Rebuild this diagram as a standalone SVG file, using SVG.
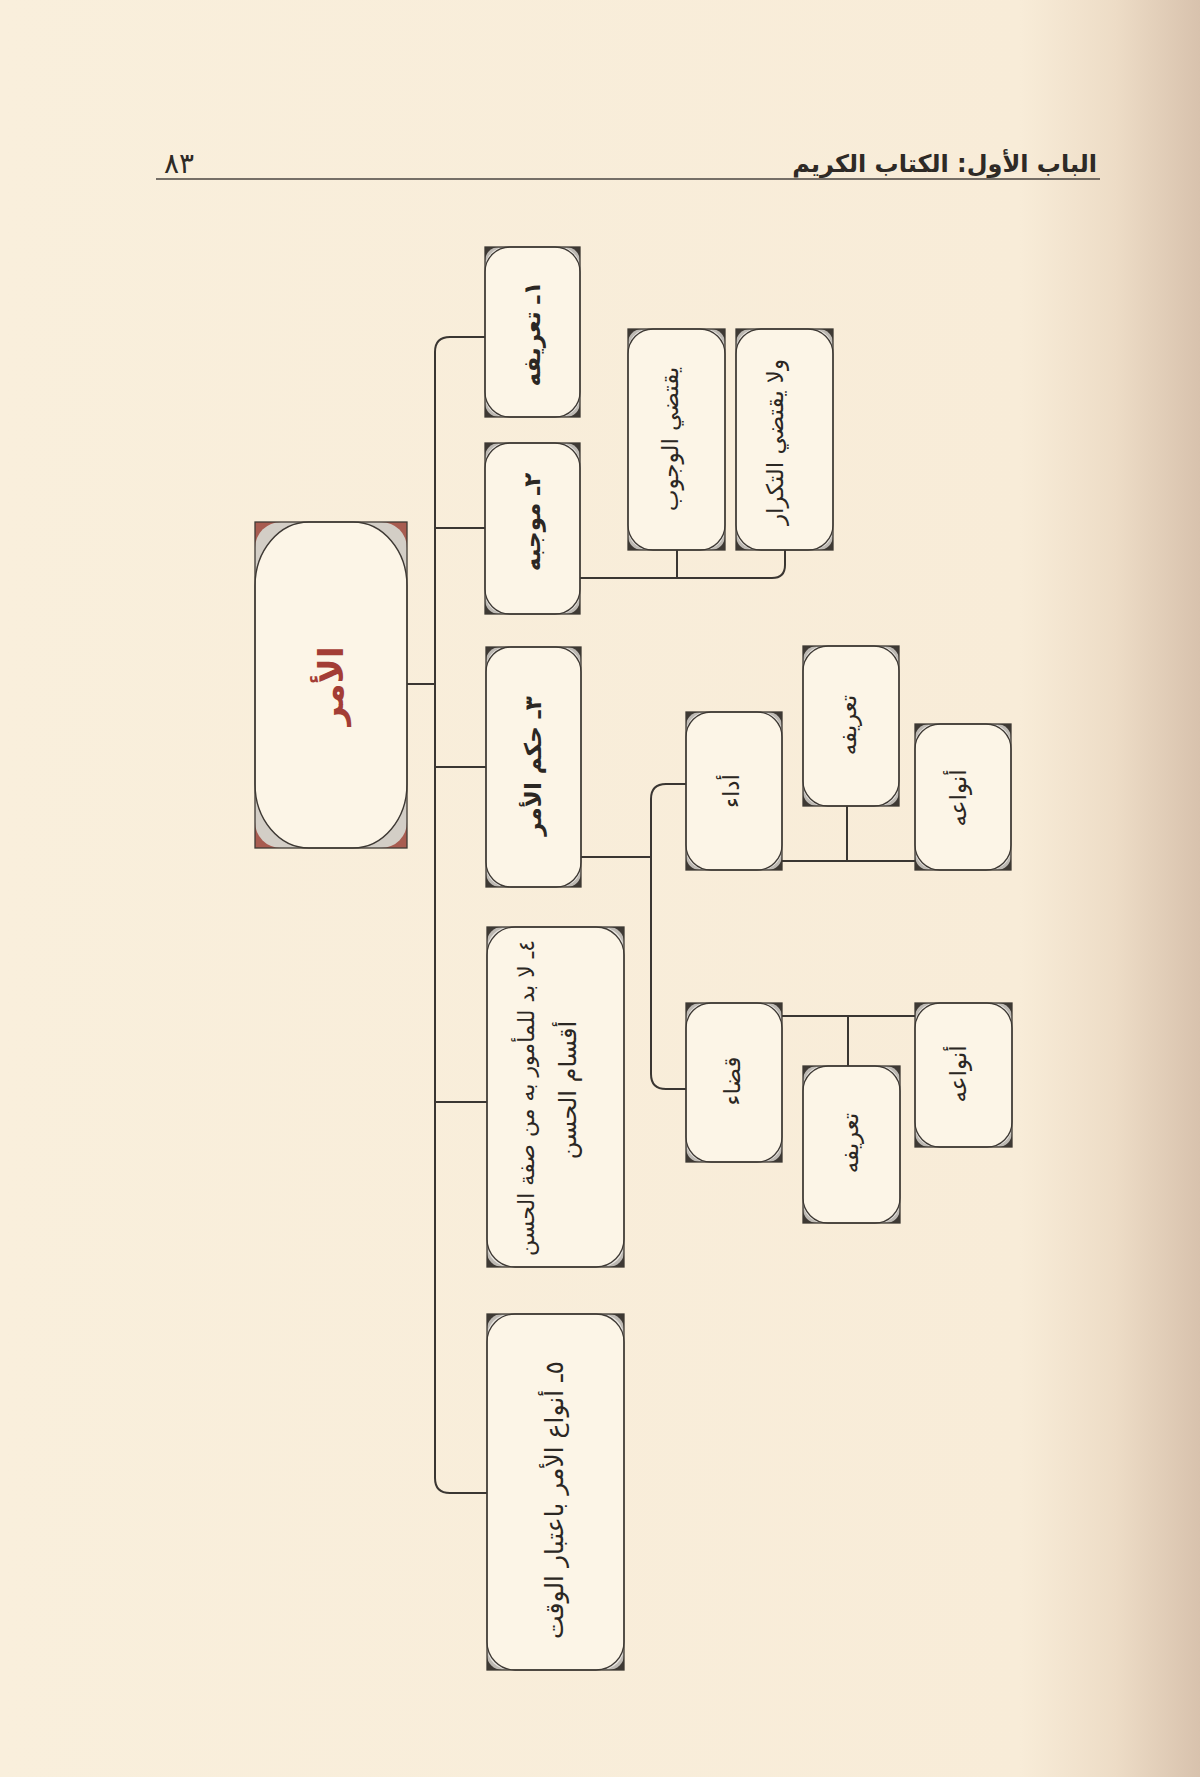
<svg xmlns="http://www.w3.org/2000/svg" width="1200" height="1777" viewBox="0 0 1200 1777">
<defs>
<linearGradient id="page" x1="0" y1="0" x2="1" y2="0">
<stop offset="0" stop-color="#f9efdc"/>
<stop offset="0.85" stop-color="#f8ecd8"/>
<stop offset="0.93" stop-color="#eddcc6"/>
<stop offset="1" stop-color="#d8c2ad"/>
</linearGradient>
<style>
.c{fill:#3e3934}
.g{fill:#bdb9b3}
.w{fill:#e9e6e1}
.i{fill:#fcf5e7;stroke:#3e3934;stroke-width:1.3}
.o{fill:none;stroke:#3e3934;stroke-width:1.3}
.mc{fill:#a85c50}
.mg{fill:#d3cec6}
.mi{fill:#fcf5e7;stroke:#3e3934;stroke-width:1.4}
.ln{fill:none;stroke:#3a3632;stroke-width:2}
.t{font-family:"DejaVu Sans",sans-serif;fill:#2b2723;font-size:23px;text-anchor:middle;dominant-baseline:central}
.b{font-weight:bold}
</style>
</defs>
<rect x="0" y="0" width="1200" height="1777" fill="url(#page)"/>

<g id="header">
<text x="1097" y="172" font-family="DejaVu Sans, sans-serif" font-size="24" font-weight="bold" fill="#2e2a26" text-anchor="end">الباب الأول: الكتاب الكريم</text>
<text x="164" y="173" font-family="DejaVu Sans, sans-serif" font-size="28" fill="#2e2a26">٨٣</text>
<line x1="156" y1="179" x2="1100" y2="179" stroke="#4a4540" stroke-width="1.5"/>
</g>

<g id="connectors">
<path class="ln" d="M407,684 H435"/>
<path class="ln" d="M485,337 H450 Q435,337 435,352 V1478 Q435,1493 450,1493 H487"/>
<path class="ln" d="M435,528 H485"/>
<path class="ln" d="M435,767 H486"/>
<path class="ln" d="M435,1102 H487"/>
<path class="ln" d="M580,578 H772 Q785,578 785,565 V550"/>
<path class="ln" d="M677,550 V578"/>
<path class="ln" d="M581,857 H651"/>
<path class="ln" d="M686,784 H666 Q651,784 651,799 V1074 Q651,1089 666,1089 H686"/>
<path class="ln" d="M782,861 H915"/>
<path class="ln" d="M847,806 V861"/>
<path class="ln" d="M782,1016 H915"/>
<path class="ln" d="M848,1016 V1066"/>
</g>

<g id="n-amr">
<rect class="mc" x="255" y="522" width="152" height="326"/>
<rect class="mg" x="255" y="522" width="152" height="326" rx="26"/>
<rect class="mi" x="255" y="522" width="152" height="326" rx="54" ry="64"/>
<rect class="o" x="255" y="522" width="152" height="326"/>
<text class="t b" transform="translate(331,686) rotate(-90)" style="fill:#a33d35;font-size:34px">الأمر</text>
</g>

<g id="n1">
<rect class="c" x="485" y="247" width="95" height="170"/>
<rect class="g" x="485" y="247" width="95" height="170" rx="14"/>
<rect class="w" x="485" y="247" width="95" height="170" rx="21"/>
<rect class="i" x="485" y="247" width="95" height="170" rx="25"/>
<rect class="o" x="485" y="247" width="95" height="170"/>
<text class="t b" transform="translate(532,334) rotate(-90)">١ـ تعريفه</text>
</g>

<g id="n2">
<rect class="c" x="485" y="443" width="95" height="171"/>
<rect class="g" x="485" y="443" width="95" height="171" rx="14"/>
<rect class="w" x="485" y="443" width="95" height="171" rx="21"/>
<rect class="i" x="485" y="443" width="95" height="171" rx="25"/>
<rect class="o" x="485" y="443" width="95" height="171"/>
<text class="t b" transform="translate(532,522) rotate(-90)">٢ـ موجبه</text>
</g>

<g id="n2a">
<rect class="c" x="628" y="329" width="97" height="221"/>
<rect class="g" x="628" y="329" width="97" height="221" rx="14"/>
<rect class="w" x="628" y="329" width="97" height="221" rx="21"/>
<rect class="i" x="628" y="329" width="97" height="221" rx="25"/>
<rect class="o" x="628" y="329" width="97" height="221"/>
<text class="t" transform="translate(670,439) rotate(-90)">يقتضي الوجوب</text>
</g>

<g id="n2b">
<rect class="c" x="736" y="329" width="97" height="221"/>
<rect class="g" x="736" y="329" width="97" height="221" rx="14"/>
<rect class="w" x="736" y="329" width="97" height="221" rx="21"/>
<rect class="i" x="736" y="329" width="97" height="221" rx="25"/>
<rect class="o" x="736" y="329" width="97" height="221"/>
<text class="t" transform="translate(775,442) rotate(-90)">ولا يقتضي التكرار</text>
</g>

<g id="n3">
<rect class="c" x="486" y="647" width="95" height="240"/>
<rect class="g" x="486" y="647" width="95" height="240" rx="14"/>
<rect class="w" x="486" y="647" width="95" height="240" rx="21"/>
<rect class="i" x="486" y="647" width="95" height="240" rx="25"/>
<rect class="o" x="486" y="647" width="95" height="240"/>
<text class="t b" transform="translate(533,766) rotate(-90)">٣ـ حكم الأمر</text>
</g>

<g id="n3a">
<rect class="c" x="686" y="712" width="96" height="158"/>
<rect class="g" x="686" y="712" width="96" height="158" rx="14"/>
<rect class="w" x="686" y="712" width="96" height="158" rx="21"/>
<rect class="i" x="686" y="712" width="96" height="158" rx="25"/>
<rect class="o" x="686" y="712" width="96" height="158"/>
<text class="t" transform="translate(731,791) rotate(-90)">أداء</text>
</g>

<g id="n3a1">
<rect class="c" x="803" y="646" width="96" height="160"/>
<rect class="g" x="803" y="646" width="96" height="160" rx="14"/>
<rect class="w" x="803" y="646" width="96" height="160" rx="21"/>
<rect class="i" x="803" y="646" width="96" height="160" rx="25"/>
<rect class="o" x="803" y="646" width="96" height="160"/>
<text class="t" transform="translate(848,725) rotate(-90)">تعريفه</text>
</g>

<g id="n3a2">
<rect class="c" x="915" y="724" width="96" height="146"/>
<rect class="g" x="915" y="724" width="96" height="146" rx="14"/>
<rect class="w" x="915" y="724" width="96" height="146" rx="21"/>
<rect class="i" x="915" y="724" width="96" height="146" rx="25"/>
<rect class="o" x="915" y="724" width="96" height="146"/>
<text class="t" transform="translate(958,798) rotate(-90)">أنواعه</text>
</g>

<g id="n3b">
<rect class="c" x="686" y="1003" width="96" height="159"/>
<rect class="g" x="686" y="1003" width="96" height="159" rx="14"/>
<rect class="w" x="686" y="1003" width="96" height="159" rx="21"/>
<rect class="i" x="686" y="1003" width="96" height="159" rx="25"/>
<rect class="o" x="686" y="1003" width="96" height="159"/>
<text class="t" transform="translate(732,1081) rotate(-90)">قضاء</text>
</g>

<g id="n3b1">
<rect class="c" x="803" y="1066" width="97" height="157"/>
<rect class="g" x="803" y="1066" width="97" height="157" rx="14"/>
<rect class="w" x="803" y="1066" width="97" height="157" rx="21"/>
<rect class="i" x="803" y="1066" width="97" height="157" rx="25"/>
<rect class="o" x="803" y="1066" width="97" height="157"/>
<text class="t" transform="translate(850,1143) rotate(-90)">تعريفه</text>
</g>

<g id="n3b2">
<rect class="c" x="915" y="1003" width="97" height="144"/>
<rect class="g" x="915" y="1003" width="97" height="144" rx="14"/>
<rect class="w" x="915" y="1003" width="97" height="144" rx="21"/>
<rect class="i" x="915" y="1003" width="97" height="144" rx="25"/>
<rect class="o" x="915" y="1003" width="97" height="144"/>
<text class="t" transform="translate(958,1074) rotate(-90)">أنواعه</text>
</g>

<g id="n4">
<rect class="c" x="487" y="927" width="137" height="340"/>
<rect class="g" x="487" y="927" width="137" height="340" rx="15"/>
<rect class="w" x="487" y="927" width="137" height="340" rx="23"/>
<rect class="i" x="487" y="927" width="137" height="340" rx="28"/>
<rect class="o" x="487" y="927" width="137" height="340"/>
<text class="t" transform="translate(526,1098) rotate(-90)" style="font-size:22px">٤ـ لا بد للمأمور به من صفة الحسن</text>
<text class="t" transform="translate(568,1090) rotate(-90)" style="font-size:24px">أقسام الحسن</text>
</g>

<g id="n5">
<rect class="c" x="487" y="1314" width="137" height="356"/>
<rect class="g" x="487" y="1314" width="137" height="356" rx="15"/>
<rect class="w" x="487" y="1314" width="137" height="356" rx="23"/>
<rect class="i" x="487" y="1314" width="137" height="356" rx="28"/>
<rect class="o" x="487" y="1314" width="137" height="356"/>
<text class="t" transform="translate(554,1500) rotate(-90)" style="font-size:25px">٥ـ أنواع الأمر باعتبار الوقت</text>
</g>
</svg>
